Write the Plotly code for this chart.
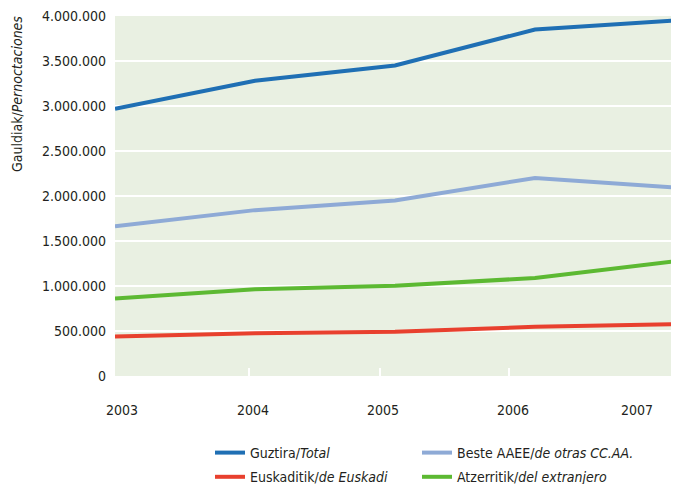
import plotly.graph_objects as go

years = [2003, 2004, 2005, 2006, 2007]
total = [2970000, 3280000, 3450000, 3850000, 3950000]
otras = [1664000, 1843000, 1950000, 2200000, 2095000]
euskadi = [439000, 475000, 493000, 546000, 575000]
extranjero = [861000, 964000, 1003000, 1089000, 1275000]

year_labels = ["2003", "2004", "2005", "2006", "2007"]
label_pos = [2003.05, 2003.986, 2004.914, 2005.843, 2006.729]
minor_pos = [2003.957, 2004.893, 2005.814]
y_ticks = [0, 500000, 1000000, 1500000, 2000000, 2500000, 3000000, 3500000, 4000000]
y_text = ["0", "500.000", "1.000.000", "1.500.000", "2.000.000", "2.500.000",
          "3.000.000", "3.500.000", "4.000.000"]

FONT = "DejaVu Sans Condensed, Liberation Sans Narrow, sans-serif"
TXT = "#231f20"
PW = 564.0
PH = 360.0

def px_x(p):
    return (p - 115) / PW

def px_y(p):
    return (376 - p) / PH

fig = go.Figure()
series = [
    ("Guztira/<i>Total</i>", total, "#1f6fb4", "legend"),
    ("Beste AAEE/<i>de otras CC.AA.</i>", otras, "#8eaad6", "legend2"),
    ("Euskaditik/<i>de Euskadi</i>", euskadi, "#e8402e", "legend"),
    ("Atzerritik/<i>del extranjero</i>", extranjero, "#5cb932", "legend2"),
]
for i, (name, vals, col, lg) in enumerate(series):
    fig.add_trace(go.Scatter(x=years, y=vals, mode="lines", name=name,
                             legendgroup="g%d" % i,
                             line=dict(color=col, width=4), legend=lg))

legend_common = dict(xanchor="left", yanchor="top", bgcolor="rgba(0,0,0,0)",
                     font=dict(family=FONT, size=14, color=TXT), tracegroupgap=3)
fig.update_layout(
    width=671, height=476,
    margin=dict(l=107, r=0, t=8, b=108, autoexpand=False),
    plot_bgcolor="#e9f0e2", paper_bgcolor="white",
    font=dict(family=FONT, size=14, color=TXT),
    showlegend=True,
    legend=dict(x=px_x(210), y=px_y(437), **legend_common),
    legend2=dict(x=px_x(417), y=px_y(437), **legend_common),
    xaxis=dict(range=[2003, 2007.0286], tickvals=label_pos, ticktext=year_labels,
               ticks="", showgrid=False, zeroline=False, showline=False,
               automargin=False, ticklabelstandoff=24, ticklabeloverflow="allow",
               minor=dict(tickvals=minor_pos, ticks="inside", ticklen=8,
                          tickwidth=2, tickcolor="white", showgrid=False)),
    yaxis=dict(range=[0, 4000000], tickvals=y_ticks, ticktext=y_text,
               showgrid=True, gridcolor="white", gridwidth=2, zeroline=False,
               showline=False, ticks="", automargin=False, ticklabelstandoff=8,
               ticklabeloverflow="allow"),
    annotations=[dict(text="Gauldiak/<i>Pernoctaciones</i>", xref="paper", yref="paper",
                      x=px_x(17), y=px_y(94), xanchor="center", yanchor="middle",
                      textangle=-90, showarrow=False,
                      font=dict(family=FONT, size=14, color=TXT))],
)
fig.update_xaxes(tickfont=dict(family=FONT, size=14, color=TXT))
fig.update_yaxes(tickfont=dict(family=FONT, size=14, color=TXT))

fig.write_html("out.html")
